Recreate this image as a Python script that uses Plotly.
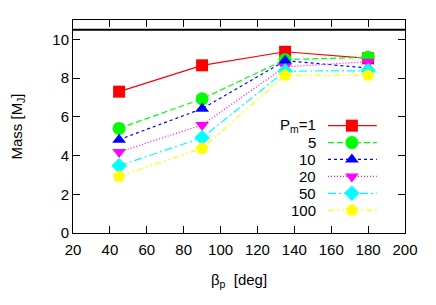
import plotly.graph_objects as go

beta = [45, 90, 135, 180]
labels = ["P<sub>m</sub>=1", "5", "10", "20", "50", "100"]
m1 = [7.30, 8.66, 9.36, 9.02]
m5 = [5.40, 6.93, 8.95, 9.08]
m10 = [4.82, 6.42, 8.90, 8.52]
m20 = [4.18, 5.58, 8.58, 8.85]
m50 = [3.47, 4.92, 8.36, 8.38]
m100 = [2.92, 4.37, 8.15, 8.15]
ref_line = 10.5

series = [m1, m5, m10, m20, m50, m100]
colors = ["#ff0000", "#00ff00", "#0000ff", "#ff00ff", "#00ffff", "#ffff00"]
symbols = ["square", "circle", "triangle-up", "triangle-down", "diamond", "pentagon"]
dashes = ["solid", "6px,3px", "3px,3px", "1px,2px", "8px,3px,2px,3px", "6px,3px,2px,3px,2px,3px"]
msizes = [12, 13, 12, 12, 12, 13]

fig = go.Figure()
for s, c, sym, d, ms in zip(series, colors, symbols, dashes, msizes):
    fig.add_trace(go.Scatter(x=beta, y=s, mode="lines+markers",
                             line=dict(color=c, width=1.2, dash=d),
                             marker=dict(symbol=sym, size=ms, color=c, line=dict(width=0)),
                             showlegend=False, xaxis="x", yaxis="y"))

# manual legend (text left of sample, gnuplot style)
lx0, lx1, lxm = 0.768, 0.915, 0.840
ly0, ldy = 0.504, 0.0794
for i, (lab, c, sym, d, ms) in enumerate(zip(labels, colors, symbols, dashes, msizes)):
    yy = ly0 - i * ldy
    fig.add_trace(go.Scatter(x=[lx0, lxm, lx1], y=[yy, yy, yy], mode="lines",
                             line=dict(color=c, width=1.2, dash=d),
                             showlegend=False, xaxis="x2", yaxis="y2", hoverinfo="skip"))
    fig.add_trace(go.Scatter(x=[lxm], y=[yy], mode="markers",
                             marker=dict(symbol=sym, size=ms, color=c, line=dict(width=0)),
                             showlegend=False, xaxis="x2", yaxis="y2", hoverinfo="skip"))
    fig.add_annotation(x=0.738, y=yy, xref="x domain", yref="y domain", text=lab,
                       showarrow=False, xanchor="right", yanchor="middle",
                       font=dict(family="Liberation Sans, Arial, sans-serif", size=15, color="black"))

fig.add_shape(type="line", xref="x domain", x0=0, x1=1, yref="y", y0=ref_line, y1=ref_line,
              line=dict(color="black", width=2))

font = dict(family="Liberation Sans, Arial, sans-serif", size=15, color="black")
axis_common = dict(showgrid=False, zeroline=False, showline=True, linecolor="black", linewidth=1,
                   mirror="allticks", ticks="inside", ticklen=7, tickcolor="black",
                   tickfont=font, automargin=False)
fig.update_layout(
    width=428, height=297,
    margin=dict(l=65, r=31, t=12, b=72),
    paper_bgcolor="white", plot_bgcolor="white",
    font=font,
    xaxis=dict(range=[20, 200], tick0=20, dtick=20, ticklabelstandoff=3,
               title=dict(text="β<sub>p</sub>  [deg]", font=font, standoff=17), **axis_common),
    yaxis=dict(range=[0, 11], tickvals=[0, 2, 4, 6, 8, 10],
               title=dict(text="Mass [M<sub>J</sub>]", font=font, standoff=35), **axis_common),
    xaxis2=dict(range=[0, 1], overlaying="x", visible=False),
    yaxis2=dict(range=[0, 1], overlaying="y", visible=False),
)
fig.write_html("out.html")
